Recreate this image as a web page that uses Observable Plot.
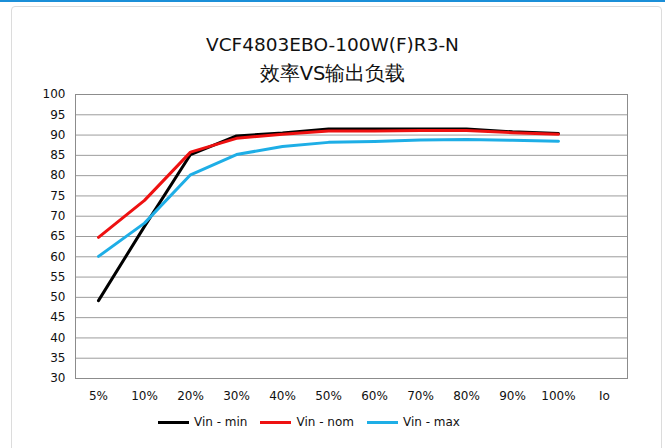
<!DOCTYPE html>
<html>
<head>
<meta charset="utf-8">
<script src="https://cdn.jsdelivr.net/npm/d3@7"></script>
<script src="https://cdn.jsdelivr.net/npm/@observablehq/plot@0.6"></script>
<style>
  html, body { margin: 0; padding: 0; background: #fff; }
  #root { position: relative; width: 665px; height: 448px; overflow: hidden; font-family: "DejaVu Sans", "Liberation Sans", sans-serif; }
  #topbar { position: absolute; left: 0; top: 0; width: 665px; height: 2px; background: #1b8fd8; }
  #panel { position: absolute; left: 11px; top: 6px; width: 649px; height: 460px; border: 1px solid #dcdcdc; border-radius: 4px; }
  .title { position: absolute; left: 0; width: 665px; text-align: center; color: #111; font-size: 18.5px; }
  #chart { position: absolute; left: 0; top: 80px; }
  #legend { position: absolute; left: 158px; top: 415px; display: flex; align-items: center; font-size: 12px; color: #111; }
  .item { display: flex; align-items: center; margin-right: 13px; }
  .sw { width: 31px; height: 3px; margin-right: 5px; }
</style>
</head>
<body>
<div id="root">
  <div id="topbar"></div>
  <div id="panel"></div>
  <div class="title" style="top:34px;">VCF4803EBO-100W(F)R3-N</div>
  <div class="title" style="top:60px; font-size:19.5px;">效率VS输出负载</div>
  <div id="chart"></div>
  <div id="legend"></div>
</div>
<script>
const categories = ["5%", "10%", "20%", "30%", "40%", "50%", "60%", "70%", "80%", "90%", "100%", "Io"];
const loads = ["5%", "10%", "20%", "30%", "40%", "50%", "60%", "70%", "80%", "90%", "100%"];
const vinMin = [49.2, 67.5, 85.2, 89.8, 90.5, 91.5, 91.5, 91.5, 91.5, 90.8, 90.4];
const vinNom = [64.8, 73.9, 85.8, 89.2, 90.2, 91.0, 91.0, 91.1, 91.1, 90.6, 90.2];
const vinMax = [60.1, 68.3, 80.2, 85.2, 87.2, 88.2, 88.4, 88.8, 88.9, 88.7, 88.5];
const yTicks = [30, 35, 40, 45, 50, 55, 60, 65, 70, 75, 80, 85, 90, 95, 100];
const seriesNames = ["Vin - min", "Vin - nom", "Vin - max"];
const seriesColors = ["#000000", "#ee1111", "#1eaee6"];

const seriesValues = [vinMin, vinNom, vinMax];
const data = [];
seriesNames.forEach((name, s) => {
  loads.forEach((l, i) => data.push({series: name, load: l, value: seriesValues[s][i]}));
});

const plot = Plot.plot({
  width: 665,
  height: 330,
  marginLeft: 75,
  marginRight: 38,
  marginTop: 14,
  marginBottom: 32,
  style: {fontFamily: "DejaVu Sans, Liberation Sans, sans-serif", fontSize: "12px", color: "#111", background: "transparent"},
  x: {type: "point", domain: categories, padding: 0.5, label: null, tickSize: 0, tickPadding: 13},
  y: {domain: [30, 100], ticks: yTicks, label: null, tickSize: 0, tickPadding: 10},
  color: {domain: seriesNames, range: seriesColors},
  marks: [
    Plot.ruleY(yTicks, {stroke: "#9c9c9c", strokeWidth: 1}),
    Plot.frame({stroke: "#8c8c8c", strokeWidth: 1}),
    Plot.line(data, {x: "load", y: "value", z: "series", stroke: "series", strokeWidth: 3, strokeLinejoin: "round"})
  ]
});
document.getElementById("chart").appendChild(plot);

const legend = document.getElementById("legend");
seriesNames.forEach((n, i) => {
  const it = document.createElement("div");
  it.className = "item";
  const sw = document.createElement("div");
  sw.className = "sw";
  sw.style.background = seriesColors[i];
  const t = document.createElement("span");
  t.textContent = n;
  it.appendChild(sw); it.appendChild(t);
  legend.appendChild(it);
});
</script>
</body>
</html>
